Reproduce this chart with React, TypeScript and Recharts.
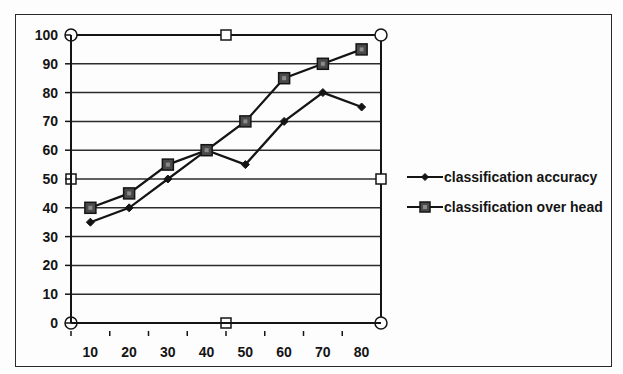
import { LineChart, Line, XAxis, YAxis, CartesianGrid, Legend, Customized } from 'recharts'

const categories = [10, 20, 30, 40, 50, 60, 70, 80]
const accuracy = [35, 40, 50, 60, 55, 70, 80, 75]
const overhead = [40, 45, 55, 60, 70, 85, 90, 95]
const yTicks = [0, 10, 20, 30, 40, 50, 60, 70, 80, 90, 100]

const chartData = categories.map((c, i) => ({
  name: c,
  accuracy: accuracy[i],
  overhead: overhead[i],
}))

const W = 623
const H = 374
const margin = { top: 35, right: 242, bottom: 21, left: 11 }
const Y_AXIS_W = 60
const X_AXIS_H = 30
// plot area derived from the margins above
const plot = {
  left: margin.left + Y_AXIS_W,
  top: margin.top,
  right: W - margin.right,
  bottom: H - margin.bottom - X_AXIS_H,
}
// half a category slot, so points sit between the tick marks
const HALF_BAND = (plot.right - plot.left) / categories.length / 2

const INK = '#141414'
const FONT = '"Liberation Sans", Arial, sans-serif'

function Diamond({ cx, cy, size = 4 }: { cx?: number; cy?: number; size?: number }) {
  if (cx == null || cy == null) return null
  return (
    <path
      d={`M${cx},${cy - size} L${cx + size},${cy} L${cx},${cy + size} L${cx - size},${cy} Z`}
      fill={INK}
      stroke={INK}
      strokeWidth={1}
    />
  )
}

function Square({ cx, cy, size = 5 }: { cx?: number; cy?: number; size?: number }) {
  if (cx == null || cy == null) return null
  return (
    <g>
      <rect x={cx - size} y={cy - size} width={size * 2} height={size * 2} fill="#4a4a4a" stroke={INK} strokeWidth={1.5} />
      <rect x={cx - 2} y={cy - 2} width={4} height={4} fill="#8a8a8a" />
    </g>
  )
}

function XTick(props: any) {
  const { x, y, payload } = props
  return (
    <g>
      <line x1={x - HALF_BAND} y1={y} x2={x - HALF_BAND} y2={y + 5} stroke={INK} strokeWidth={1.5} />
      <text x={x} y={y + 26} textAnchor="middle" fontFamily={FONT} fontWeight="bold" fontSize={14} fill={INK}>
        {payload.value}
      </text>
    </g>
  )
}

// plot-area border plus the little selection handles around it
function PlotFrame() {
  const { left, top, right, bottom } = plot
  const mx = (left + right) / 2
  const my = (top + bottom) / 2
  const circles = [
    [left, top],
    [right, top],
    [left, bottom],
    [right, bottom],
  ]
  const squares = [
    [mx, top],
    [mx, bottom],
    [left, my],
    [right, my],
  ]
  return (
    <g>
      <line x1={right} y1={top} x2={right} y2={bottom} stroke={INK} strokeWidth={2} />
      <line x1={left} y1={top} x2={right} y2={top} stroke={INK} strokeWidth={2} />
      {circles.map(([x, y], i) => (
        <circle key={`c${i}`} cx={x} cy={y} r={6} fill="#fff" stroke={INK} strokeWidth={1.5} />
      ))}
      {squares.map(([x, y], i) => (
        <rect key={`s${i}`} x={x - 5} y={y - 5} width={10} height={10} fill="#fff" stroke={INK} strokeWidth={1.5} />
      ))}
    </g>
  )
}

function LegendContent() {
  const rows = [
    { label: 'classification accuracy', marker: 'diamond' },
    { label: 'classification over head', marker: 'square' },
  ]
  return (
    <div style={{ fontFamily: FONT }}>
      {rows.map((r) => (
        <div key={r.label} style={{ display: 'flex', alignItems: 'center', height: 30 }}>
          <svg width={38} height={14}>
            <line x1={1} y1={7} x2={37} y2={7} stroke={INK} strokeWidth={2} />
            {r.marker === 'diamond' ? <Diamond cx={19} cy={7} size={3.5} /> : <Square cx={19} cy={7} size={5} />}
          </svg>
          <span style={{ fontSize: 14, fontWeight: 'bold', color: INK, whiteSpace: 'nowrap' }}>{r.label}</span>
        </div>
      ))}
    </div>
  )
}

export default function App() {
  return (
    <div style={{ position: 'absolute', left: 0, top: 0, width: W, height: H, background: '#fdfdfd' }}>
      <div
        style={{
          position: 'absolute',
          left: 15,
          top: 14,
          width: 597,
          height: 353,
          border: '1.5px solid #2a2a2a',
          boxSizing: 'border-box',
        }}
      />
      <LineChart width={W} height={H} data={chartData} margin={margin} style={{ position: 'absolute', left: 0, top: 0 }}>
        <CartesianGrid vertical={false} stroke={INK} strokeWidth={1.5} strokeOpacity={0.9} />
        <XAxis
          dataKey="name"
          type="category"
          height={X_AXIS_H}
          padding={{ left: HALF_BAND, right: HALF_BAND }}
          axisLine={{ stroke: INK, strokeWidth: 2 }}
          tickLine={false}
          tick={<XTick />}
          interval={0}
        />
        <YAxis
          domain={[0, 100]}
          ticks={yTicks}
          width={Y_AXIS_W}
          axisLine={{ stroke: INK, strokeWidth: 2 }}
          tickLine={{ stroke: INK, strokeWidth: 1.5 }}
          tickSize={6}
          tickMargin={7}
          tick={{ fill: INK, fontFamily: FONT, fontWeight: 'bold', fontSize: 14 }}
        />
        <Legend
          layout="vertical"
          align="center"
          verticalAlign="middle"
          content={<LegendContent />}
          wrapperStyle={{ left: 406, top: 162, width: 215 }}
        />
        <Line
          dataKey="accuracy"
          name="classification accuracy"
          stroke={INK}
          strokeWidth={2.2}
          dot={<Diamond size={4} />}
          isAnimationActive={false}
        />
        <Line
          dataKey="overhead"
          name="classification over head"
          stroke={INK}
          strokeWidth={2.2}
          dot={<Square size={5.5} />}
          isAnimationActive={false}
        />
        <Customized component={<PlotFrame />} />
      </LineChart>
    </div>
  )
}
